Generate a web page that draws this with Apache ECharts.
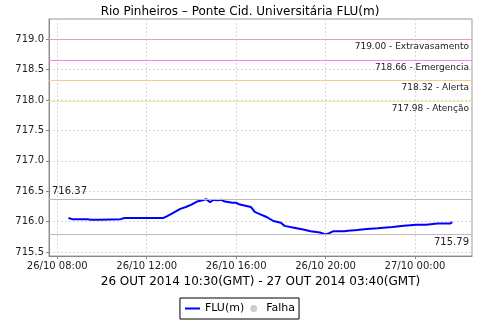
<!DOCTYPE html>
<html><head><meta charset="utf-8">
<script src="https://cdn.jsdelivr.net/npm/echarts@6/dist/echarts.min.js"></script>
<style>html,body{margin:0;padding:0;background:#fff}#c{width:480px;height:320px}</style>
</head><body><div id="c"></div>
<script>
var title = 'Rio Pinheiros – Ponte Cid. Universitária FLU(m)';
var axisName = '26 OUT 2014 10:30(GMT) - 27 OUT 2014 03:40(GMT)';
var times = ['26/10 08:30','26/10 08:40','26/10 09:20','26/10 09:30','26/10 09:55','26/10 10:00','26/10 10:50','26/10 11:00','26/10 11:05','26/10 11:15','26/10 12:45','26/10 12:55','26/10 13:10','26/10 13:30','26/10 13:45','26/10 14:00','26/10 14:15','26/10 14:30','26/10 14:40','26/10 14:50','26/10 15:00','26/10 15:10','26/10 15:20','26/10 15:30','26/10 15:50','26/10 16:00','26/10 16:10','26/10 16:40','26/10 16:50','26/10 17:05','26/10 17:20','26/10 17:40','26/10 18:00','26/10 18:10','26/10 18:35','26/10 19:00','26/10 19:20','26/10 19:45','26/10 20:00','26/10 20:10','26/10 20:20','26/10 20:50','26/10 21:00','26/10 21:25','26/10 21:50','26/10 22:20','26/10 22:35','26/10 23:00','26/10 23:30','27/10 00:05','27/10 00:30','27/10 01:00','27/10 01:35','27/10 01:40'];
var flu = [716.06,716.04,716.04,716.03,716.03,716.04,716.04,716.06,716.04,716.06,716.06,716.09,716.14,716.21,716.24,716.28,716.33,716.35,716.37,716.32,716.36,716.35,716.36,716.33,716.31,716.31,716.28,716.24,716.16,716.12,716.08,716.01,715.98,715.93,715.90,715.87,715.84,715.82,715.79,715.81,715.84,715.84,715.85,715.86,715.88,715.89,715.90,715.91,715.93,715.95,715.95,715.97,715.97,715.99];
var levelValues = [719.00, 718.66, 718.32, 717.98];
var levelNames = ['Extravasamento', 'Emergencia', 'Alerta', 'Atenção'];
var levelColors = ['#eea0a0', '#ff80ff', '#ffc890', '#f4ec98'];
var maxValue = 716.37, minValue = 715.79;
var xTickLabels = ['26/10 08:00','26/10 12:00','26/10 16:00','26/10 20:00','27/10 00:00'];
var yTicks = [715.5,716.0,716.5,717.0,717.5,718.0,718.5,719.0];

function toHours(s){ var p=s.split(' '); var d=parseInt(p[0].split('/')[0],10); var hm=p[1].split(':'); return (d-26)*24+parseInt(hm[0],10)+parseInt(hm[1],10)/60; }
var xTicks = xTickLabels.map(toHours);
var labelMap = {}; xTickLabels.forEach(function(l,i){ labelMap[xTicks[i]] = l; });
var seriesData = times.map(function(t,i){ return [toHours(t), flu[i]]; });

var font = 'DejaVu Sans';
var markData = levelValues.map(function(v,i){
  return {yAxis: v, lineStyle:{color: levelColors[i], width:1, type:'solid'},
    label:{show:true, position:'insideEndBottom', formatter: v.toFixed(2)+' - '+levelNames[i], color:'#222', fontFamily:font, fontSize:9, distance:[3,3]}};
});
markData.push({yAxis:maxValue, lineStyle:{color:'#bbb', width:1, type:'solid'}, label:{show:true, position:'insideStartTop', formatter: maxValue.toFixed(2), color:'#222', fontFamily:font, fontSize:10, distance:[3,3]}});
markData.push({yAxis:minValue, lineStyle:{color:'#bbb', width:1, type:'solid'}, label:{show:true, position:'insideEndBottom', formatter: minValue.toFixed(2), color:'#222', fontFamily:font, fontSize:10, distance:[3,3]}});

var chart = echarts.init(document.getElementById('c'), null, {renderer:'canvas'});
chart.setOption({
  animation:false,
  backgroundColor:'#fff',
  title:{text:title, left:'center', top:1, textStyle:{fontFamily:font, fontSize:12, fontWeight:'normal', color:'#000'}},
  grid:{left:49, right:8, top:19, bottom:64, show:true, borderColor:'#999', borderWidth:1, backgroundColor:'#fff'},
  xAxis:{type:'value', min:7.63, max:26.55,
    name:axisName, nameLocation:'middle', nameGap:18, nameTextStyle:{fontFamily:font, fontSize:12, color:'#000', verticalAlign:'top'},
    axisLine:{show:true, lineStyle:{color:'#888'}},
    axisTick:{show:true, length:3, customValues:xTicks, lineStyle:{color:'#888'}},
    axisLabel:{customValues:xTicks, formatter:function(v){ return labelMap[v]||''; }, fontFamily:font, fontSize:10, color:'#222', margin:5},
    splitLine:{show:true, lineStyle:{color:'#d8d8d8', type:[2,2]}}
  },
  yAxis:{type:'value', min:715.434, max:719.334,
    axisLine:{show:true, lineStyle:{color:'#888'}},
    axisTick:{show:true, length:3, customValues:yTicks, lineStyle:{color:'#888'}},
    axisLabel:{customValues:yTicks, formatter:function(v){ return v.toFixed(1); }, fontFamily:font, fontSize:10, color:'#222', margin:5},
    splitLine:{show:true, lineStyle:{color:'#d8d8d8', type:[2,2]}}
  },
  legend:{bottom:1, left:'center', orient:'horizontal', borderColor:'#000', borderWidth:1, padding:[5,4,5,5], itemGap:6, itemWidth:15, itemHeight:7, symbolKeepAspect:true,
    textStyle:{fontFamily:font, fontSize:11, color:'#000'},
    data:[{name:'FLU(m)', icon:'path://M0,0H15V2H0Z', itemStyle:{color:'#0000ff'}},{name:'Falha', icon:'circle', itemStyle:{color:'#c0c0c0'}}]},
  series:[
    {name:'FLU(m)', type:'line', data:seriesData, symbol:'none', lineStyle:{color:'#0000ff', width:2}, itemStyle:{color:'#0000ff'},
     markLine:{silent:true, symbol:'none', animation:false, data:markData}},
    {name:'Falha', type:'scatter', data:[], itemStyle:{color:'#c0c0c0'}}
  ]
});
</script></body></html>
